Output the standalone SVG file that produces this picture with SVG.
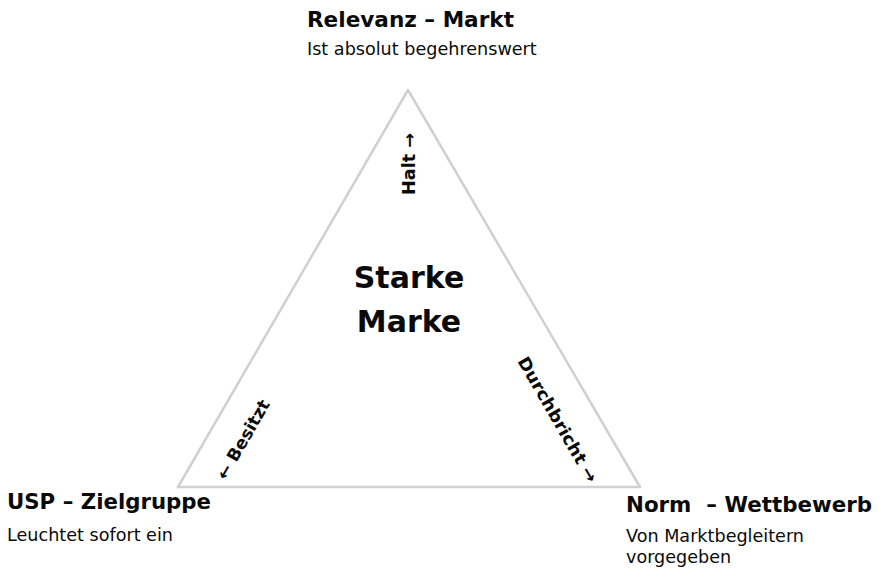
<svg xmlns="http://www.w3.org/2000/svg" width="879" height="569" viewBox="0 0 879 569">
  <style>
    text { font-family: "DejaVu Sans", "Liberation Sans", sans-serif; fill: #0a0a0a; }
    .title { font-size: 21px; font-weight: bold; }
    .sub { font-size: 17.6px; }
    .center { font-size: 30px; font-weight: bold; text-anchor: middle; }
    .edge-label { font-size: 17px; font-weight: bold; }
    .edge { stroke: #d0d0d0; stroke-width: 2.5; fill: none; stroke-linecap: round; }
  </style>
  <rect width="879" height="569" fill="#ffffff"/>

  <!-- triangle sides with their labels -->
  <g id="connectors">
    <line class="edge" x1="408" y1="90" x2="178" y2="487"/>
    <line class="edge" x1="408" y1="90" x2="640" y2="487"/>
    <line class="edge" x1="178" y1="487" x2="640" y2="487"/>
    <text class="edge-label" transform="translate(415,195) rotate(-90)" textLength="62" lengthAdjust="spacingAndGlyphs">Halt →</text>
    <text class="edge-label" transform="translate(226,481) rotate(-60)" textLength="89" lengthAdjust="spacingAndGlyphs">← Besitzt</text>
    <text class="edge-label" transform="translate(517,361) rotate(60)" textLength="142" lengthAdjust="spacingAndGlyphs">Durchbricht →</text>
  </g>

  <g id="markt">
    <text class="title" x="307" y="27" textLength="207" lengthAdjust="spacingAndGlyphs">Relevanz – Markt</text>
    <text class="sub" x="307" y="55">Ist absolut begehrenswert</text>
  </g>

  <g id="zielgruppe">
    <text class="title" x="7" y="509" textLength="204" lengthAdjust="spacingAndGlyphs">USP – Zielgruppe</text>
    <text class="sub" x="7" y="541">Leuchtet sofort ein</text>
  </g>

  <g id="wettbewerb">
    <text class="title" x="626" y="512" textLength="246" lengthAdjust="spacingAndGlyphs" xml:space="preserve">Norm  – Wettbewerb</text>
    <text class="sub" x="626" y="542">Von Marktbegleitern</text>
    <text class="sub" x="626" y="563">vorgegeben</text>
  </g>

  <g id="starke-marke">
    <text class="center" x="409" y="288">Starke</text>
    <text class="center" x="409" y="332">Marke</text>
  </g>
</svg>
